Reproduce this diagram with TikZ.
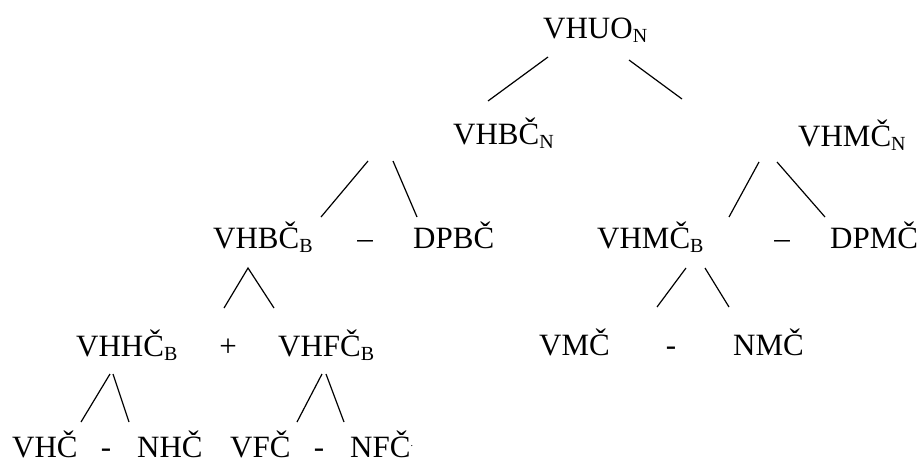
\documentclass[tikz,border=0pt]{standalone}
\usepackage{fontspec}
\setmainfont{Liberation Serif}
\newcommand{\sbx}[1]{\raisebox{-4pt}{\fontsize{20}{20}\selectfont #1}}
\begin{document}
\begin{tikzpicture}[x=1pt,y=-1pt,
  lbl/.style={anchor=base west,inner sep=0pt,font=\fontsize{31}{31}\selectfont},
  op/.style={anchor=base,inner sep=0pt,font=\fontsize{31}{31}\selectfont},
  edge/.style={line width=1.2pt,black}]
\useasboundingbox[fill=white] (0,0) rectangle (923,461);
% row 1
\node[lbl] (vhuo) at (543,38) {VHUO\sbx{N}};
% row 2
\node[lbl] (vhbcn) at (453,144) {VHBČ\sbx{N}};
\node[lbl] (vhmcn) at (798,146) {VHMČ\sbx{N}};
% row 3
\node[lbl] (vhbcb) at (213,248) {VHBČ\sbx{B}};
\node[op] (m1) at (365,248) {–};
\node[lbl] (dpbc) at (413,248) {DPBČ};
\node[lbl] (vhmcb) at (597,248) {VHMČ\sbx{B}};
\node[op] (m2) at (782,248) {–};
\node[lbl] (dpmc) at (830,248) {DPMČ};
% row 4
\node[lbl] (vhhcb) at (76,356) {VHHČ\sbx{B}};
\node[op] (plus) at (228,356) {+};
\node[lbl] (vhfcb) at (278,356) {VHFČ\sbx{B}};
\node[lbl] (vmc) at (539,355) {VMČ};
\node[op] (m3) at (671,355) {-};
\node[lbl] (nmc) at (733,355) {NMČ};
% row 5
\node[lbl] (vhc) at (12,457) {VHČ};
\node[op] (m4) at (106,457) {-};
\node[lbl] (nhc) at (137,457) {NHČ};
\node[lbl] (vfc) at (230,457) {VFČ};
\node[op] (m5) at (319,457) {-};
\node[lbl] (nfc) at (350,457) {NFČ\raisebox{11pt}{\fontsize{10}{10}\selectfont .}};
% connector end points
\coordinate (a1) at (548,57);  \coordinate (b1) at (488,101);
\coordinate (a2) at (629,60);  \coordinate (b2) at (682,99);
\coordinate (a3) at (368,161); \coordinate (b3) at (321,217);
\coordinate (a4) at (393,161); \coordinate (b4) at (417,217);
\coordinate (a5) at (759,162); \coordinate (b5) at (729,217);
\coordinate (a6) at (777,162); \coordinate (b6) at (825,217);
\coordinate (a7) at (248,268); \coordinate (b7) at (224,308); \coordinate (c7) at (274,308);
\coordinate (a8) at (686,268); \coordinate (b8) at (657,307);
\coordinate (a9) at (705,268); \coordinate (b9) at (729,307);
\coordinate (a10) at (110,374); \coordinate (b10) at (81,422);
\coordinate (a11) at (113,374); \coordinate (b11) at (129,422);
\coordinate (a12) at (322,374); \coordinate (b12) at (297,422);
\coordinate (a13) at (326,374); \coordinate (b13) at (344,422);
\draw[edge] (a1) -- (b1);
\draw[edge] (a2) -- (b2);
\draw[edge] (a3) -- (b3);
\draw[edge] (a4) -- (b4);
\draw[edge] (a5) -- (b5);
\draw[edge] (a6) -- (b6);
\draw[edge] (b7) -- (a7) -- (c7);
\draw[edge] (a8) -- (b8);
\draw[edge] (a9) -- (b9);
\draw[edge] (a10) -- (b10);
\draw[edge] (a11) -- (b11);
\draw[edge] (a12) -- (b12);
\draw[edge] (a13) -- (b13);
\end{tikzpicture}
\end{document}
